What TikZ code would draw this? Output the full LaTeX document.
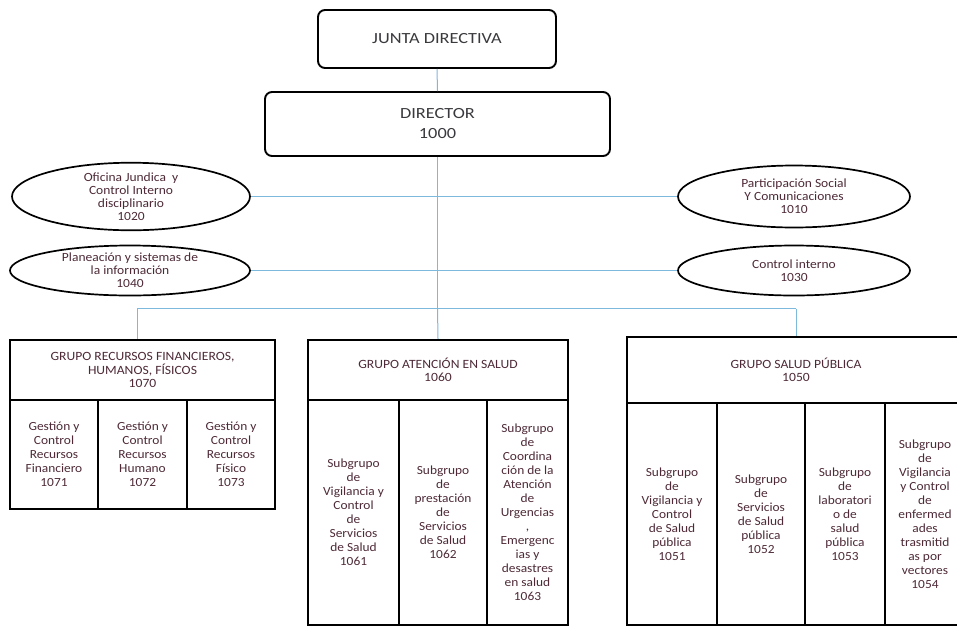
\documentclass[tikz,border=0pt]{standalone}
\usepackage{fontspec}
\setmainfont{Carlito}[FakeStretch=1.08]
\newfontfamily\topfont{Carlito}[FakeStretch=1.18]
\usetikzlibrary{shapes.geometric}
\definecolor{txt}{HTML}{4E2A38}
\definecolor{toptxt}{HTML}{3A3A3E}
\definecolor{linkblue}{HTML}{7DB9DC}
\begin{document}
\begin{tikzpicture}[x=1pt,y=-1pt,
  topbox/.style={draw=black, line width=1.9pt, rounded corners=7pt, inner sep=0pt,
    text=toptxt, font=\topfont\fontsize{15.5}{20}\selectfont, align=center},
  oval/.style={ellipse, draw=black, line width=1.7pt, inner sep=0pt,
    font=\fontsize{12.5}{13}\selectfont, align=center, text=txt},
  grp/.style={draw=black, line width=2.4pt, inner sep=0pt, align=center,
    font=\fontsize{12.6}{13.5}\selectfont, text=txt},
  sub/.style={draw=black, line width=2.4pt, inner sep=0pt, align=center,
    font=\fontsize{12.4}{14}\selectfont, text=txt},
  link/.style={draw=linkblue, line width=1pt}]
\useasboundingbox[fill=white] (0,0) rectangle (957,627);

% top boxes
\node[topbox, minimum width=238pt, minimum height=58pt] (junta) at (437,39) {JUNTA DIRECTIVA};
\node[topbox, minimum width=345pt, minimum height=64pt] (dir) at (437.5,124) {DIRECTOR\\1000};

% ellipses
\node[oval, minimum width=238pt, minimum height=64pt] (e1020) at (131,196.5)
  {Oficina Jundica\ \ y\\Control Interno\\disciplinario\\1020};
\node[oval, minimum width=240pt, minimum height=50pt] (e1040) at (130,270.5)
  {Planeación y sistemas de\\la información\\1040};
\node[oval, minimum width=232pt, minimum height=62pt] (e1010) at (794,196.5)
  {Participación Social\\Y Comunicaciones\\1010};
\node[oval, minimum width=232pt, minimum height=50pt] (e1030) at (794,270.5)
  {Control interno\\1030};

% groups
\node[grp, minimum width=265pt, minimum height=60pt] (g1070) at (142.5,370)
  {GRUPO RECURSOS FINANCIEROS,\\HUMANOS, FÍSICOS\\1070};
\node[grp, minimum width=260pt, minimum height=60pt] (g1060) at (438,370)
  {GRUPO ATENCIÓN EN SALUD\\1060};
\node[grp, minimum width=338pt, minimum height=66pt] (g1050) at (796,370)
  {GRUPO SALUD PÚBLICA\\1050};

% subgroups 1070
\node[sub, minimum width=88pt, minimum height=109pt] (s1071) at (54,454.5)
  {Gestión y\\Control\\Recursos\\Financiero\\1071};
\node[sub, minimum width=89pt, minimum height=109pt] (s1072) at (142.5,454.5)
  {Gestión y\\Control\\Recursos\\Humano\\1072};
\node[sub, minimum width=88pt, minimum height=109pt] (s1073) at (231,454.5)
  {Gestión y\\Control\\Recursos\\Físico\\1073};

% subgroups 1060
\node[sub, minimum width=91pt, minimum height=225pt] (s1061) at (353.5,512.5)
  {Subgrupo\\de\\Vigilancia y\\Control\\de\\Servicios\\de Salud\\1061};
\node[sub, minimum width=88pt, minimum height=225pt] (s1062) at (443,512.5)
  {Subgrupo\\de\\prestación\\de\\Servicios\\de Salud\\1062};
\node[sub, minimum width=81pt, minimum height=225pt] (s1063) at (527.5,512.5)
  {Subgrupo\\de\\Coordina\\ción de la\\Atención\\de\\Urgencias\\,\\Emergenc\\ias y\\desastres\\en salud\\1063};

% subgroups 1050
\node[sub, minimum width=90pt, minimum height=222pt] (s1051) at (672,514)
  {Subgrupo\\de\\Vigilancia y\\Control\\de Salud\\pública\\1051};
\node[sub, minimum width=88pt, minimum height=222pt] (s1052) at (761,514)
  {Subgrupo\\de\\Servicios\\de Salud\\pública\\1052};
\node[sub, minimum width=80pt, minimum height=222pt] (s1053) at (845,514)
  {Subgrupo\\de\\laboratori\\o de\\salud\\pública\\1053};
\node[sub, minimum width=80pt, minimum height=222pt] (s1054) at (925,514)
  {Subgrupo\\de\\Vigilancia\\y Control\\de\\enfermed\\ades\\trasmitid\\as por\\vectores\\1054};

% connectors
\coordinate (bl) at (137,308.5);
\coordinate (br) at (796,308.5);
\coordinate (bm) at (dir.south |- bl);
\draw[link] (junta.south) -- (dir.north);
\draw[link] (dir.south) -- (bm);
\draw[link] (e1020.east) -- (e1010.west);
\draw[link] (e1040.east) -- (e1030.west);
\draw[link] (bl) -- (br);
\draw[link] (bl) -- (bl |- g1070.north);
\draw[link] (bm) -- (g1060.north);
\draw[link] (br) -- (g1050.north);
\end{tikzpicture}
\end{document}
